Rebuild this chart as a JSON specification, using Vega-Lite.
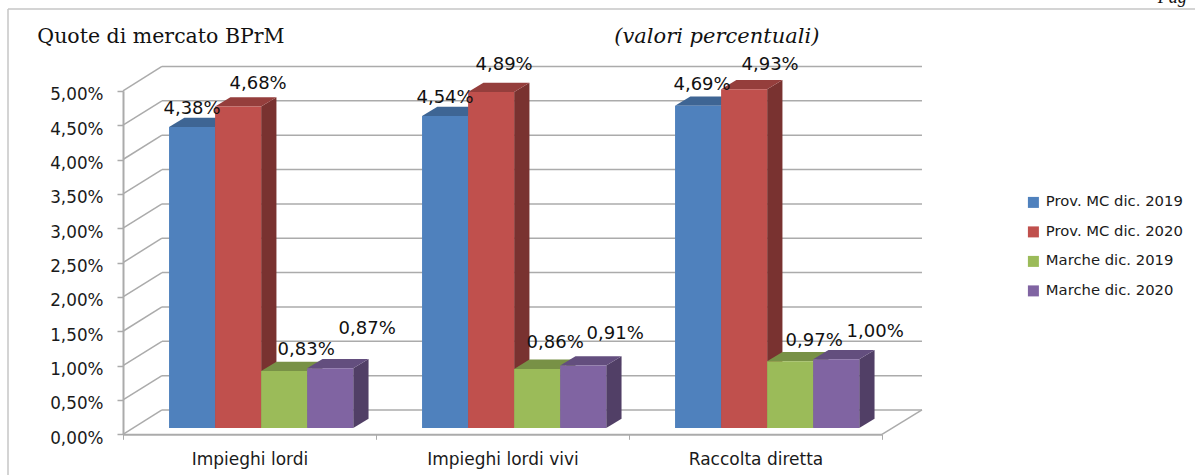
{"$schema":"https://vega.github.io/schema/vega-lite/v6.json","width":1195,"height":475,"padding":0,"autosize":{"type":"none"},"background":"white","config":{"view":{"stroke":null}},
"data":{"values":[
{"category":"Impieghi lordi","series":"Prov. MC dic. 2019","value":4.38},{"category":"Impieghi lordi","series":"Prov. MC dic. 2020","value":4.68},{"category":"Impieghi lordi","series":"Marche dic. 2019","value":0.83},{"category":"Impieghi lordi","series":"Marche dic. 2020","value":0.87},
{"category":"Impieghi lordi vivi","series":"Prov. MC dic. 2019","value":4.54},{"category":"Impieghi lordi vivi","series":"Prov. MC dic. 2020","value":4.89},{"category":"Impieghi lordi vivi","series":"Marche dic. 2019","value":0.86},{"category":"Impieghi lordi vivi","series":"Marche dic. 2020","value":0.91},
{"category":"Raccolta diretta","series":"Prov. MC dic. 2019","value":4.69},{"category":"Raccolta diretta","series":"Prov. MC dic. 2020","value":4.93},{"category":"Raccolta diretta","series":"Marche dic. 2019","value":0.97},{"category":"Raccolta diretta","series":"Marche dic. 2020","value":1.0}]},
"transform":[
{"calculate":"indexof(['Impieghi lordi','Impieghi lordi vivi','Raccolta diretta'],datum.category)","as":"g"},
{"calculate":"indexof(['Prov. MC dic. 2019','Prov. MC dic. 2020','Marche dic. 2019','Marche dic. 2020'],datum.series)","as":"s"},
{"calculate":"datum.g+0.182*(datum.s+1)","as":"x0"},
{"calculate":"datum.x0+0.182","as":"x1"},
{"calculate":"datum.value+0.092","as":"top"},
{"calculate":"datum.g*4+datum.s","as":"idx"}],
"layer":[
{"data":{"values":[{"tick":0},{"tick":0.5},{"tick":1},{"tick":1.5},{"tick":2},{"tick":2.5},{"tick":3},{"tick":3.5},{"tick":4},{"tick":4.5},{"tick":5}]},
"transform":[{"calculate":"datum.tick+0.354","as":"back"}],
"mark":{"type":"rule","color":"#ababab","strokeWidth":1.5},
"encoding":{"x":{"datum":0,"type":"quantitative","scale":{"domain":[0,3],"range":[123,882],"nice":false,"zero":false},
"axis":{"values":[0,0.5,1,1.5,2,2.5,3],"title":null,"grid":false,"offset":-40.7,"domainColor":"#ababab","domainWidth":2,"tickColor":"#ababab","tickWidth":1,"tickSize":5,"tickOpacity":{"condition":{"test":"datum.value%1==0","value":1},"value":0},"labelPadding":12,"labelFont":"DejaVu Sans","labelFontSize":17,"labelColor":"#1a1a1a","labelOverlap":false,"labelBound":false,"labelFlush":false,"labelExpr":"datum.value==0.5?'Impieghi lordi':datum.value==1.5?'Impieghi lordi vivi':datum.value==2.5?'Raccolta diretta':''"}},
"x2":{"datum":0.154},
"y":{"field":"tick","type":"quantitative","scale":{"domain":[0,5],"range":[434.3,90.8],"nice":false,"zero":false},
"axis":{"values":[0,0.5,1,1.5,2,2.5,3,3.5,4,4.5,5],"title":null,"grid":false,"offset":-123,"domainColor":"#ababab","domainWidth":2,"tickColor":"#ababab","tickWidth":1.5,"tickSize":6,"labelPadding":14,"labelOffset":4,"labelFont":"DejaVu Sans","labelFontSize":16.8,"labelColor":"#1a1a1a","labelOverlap":false,"labelBound":false,"labelExpr":"replace(format(datum.value,'.2f'),'.',',')+'%'"}},
"y2":{"field":"back"}}},
{"data":{"values":[{"tick":0},{"tick":0.5},{"tick":1},{"tick":1.5},{"tick":2},{"tick":2.5},{"tick":3},{"tick":3.5},{"tick":4},{"tick":4.5},{"tick":5}]},
"transform":[{"calculate":"datum.tick+0.354","as":"back"}],
"mark":{"type":"rule","color":"#ababab","strokeWidth":1.5},
"encoding":{"x":{"datum":0.154,"type":"quantitative"},"x2":{"datum":3.158},"y":{"field":"back","type":"quantitative"}}},
{"data":{"values":[{"tick":0}]},"transform":[{"calculate":"datum.tick+0.354","as":"back"}],
"mark":{"type":"rule","color":"#ababab","strokeWidth":1.5},
"encoding":{"x":{"datum":3,"type":"quantitative"},"x2":{"datum":3.158},"y":{"field":"tick","type":"quantitative"},"y2":{"field":"back"}}},
{"data":{"values":[{"frame":1}]},"mark":{"type":"rule","color":"#c6c6c6","strokeWidth":1.5},
"encoding":{"x":{"datum":-0.4545,"type":"quantitative"},"y":{"datum":6.19,"type":"quantitative"},"y2":{"datum":-0.6}}},
{"data":{"values":[{"frame":1}]},"mark":{"type":"rule","color":"#c6c6c6","strokeWidth":1.5},
"encoding":{"x":{"datum":-0.4545,"type":"quantitative"},"x2":{"datum":4.24},"y":{"datum":6.19,"type":"quantitative"}}},
{"transform":[{"calculate":"[0,1]","as":"v"},{"flatten":["v"]},
{"calculate":"datum.x1+datum.v*0.0605","as":"vx"},
{"calculate":"datum.top+datum.v*0.135","as":"vy"},
{"calculate":"0.092+datum.v*0.135","as":"vy2"}],
"mark":{"type":"area","orient":"vertical","interpolate":"linear"},
"encoding":{"x":{"field":"vx","type":"quantitative"},"y":{"field":"vy","type":"quantitative"},"y2":{"field":"vy2"},"detail":{"field":"g","type":"nominal"},
"color":{"field":"series","type":"nominal","legend":null,"scale":{"domain":["Prov. MC dic. 2019","Prov. MC dic. 2020","Marche dic. 2019","Marche dic. 2020"],"range":["#325176","#793230","#627538","#513f66"]}}}},
{"transform":[{"calculate":"[0,1,2,3]","as":"v"},{"flatten":["v"]},
{"calculate":"datum.v==0?datum.x0:datum.v==1?datum.x0+0.0605:datum.v==2?datum.x1:datum.x1+0.0605","as":"vx"},
{"calculate":"datum.v==0?datum.top:datum.top+0.135","as":"vy"},
{"calculate":"datum.v==3?datum.top+0.135:datum.top","as":"vy2"}],
"mark":{"type":"area","orient":"vertical","interpolate":"linear"},
"encoding":{"x":{"field":"vx","type":"quantitative"},"y":{"field":"vy","type":"quantitative"},"y2":{"field":"vy2"},"detail":{"field":"g","type":"nominal"},
"color":{"field":"series","type":"nominal","legend":null,"scale":{"domain":["Prov. MC dic. 2019","Prov. MC dic. 2020","Marche dic. 2019","Marche dic. 2020"],"range":["#3e6594","#953e3c","#789146","#634e7e"]}}}},
{"transform":[{"calculate":"0.092","as":"base"}],
"mark":{"type":"rect"},
"encoding":{"x":{"field":"x0","type":"quantitative"},"x2":{"field":"x1"},"y":{"field":"top","type":"quantitative"},"y2":{"field":"base"},
"color":{"field":"series","type":"nominal","scale":{"domain":["Prov. MC dic. 2019","Prov. MC dic. 2020","Marche dic. 2019","Marche dic. 2020"],"range":["#4f81bd","#c0504d","#9bbb59","#8064a2"]},
"legend":{"title":null,"orient":"none","legendX":1026,"legendY":195,"symbolType":"square","symbolSize":121,"symbolStrokeWidth":0,"symbolOpacity":1,"labelFont":"DejaVu Sans","labelFontSize":14.8,"labelColor":"#1a1a1a","labelOffset":5,"rowPadding":13.5,"labelLimit":200}}}},
{"transform":[{"calculate":"datum.x0+0.091+[0,20,22,37,0,13,18,32,4,26,24,39][datum.idx]/253","as":"lx"},
{"calculate":"datum.top+[18,22,21,39,18,27,26,31,21,24,20,27][datum.idx]/68.7","as":"ly"},
{"calculate":"replace(format(datum.value,'.2f'),'.',',')+'%'","as":"lab"}],
"mark":{"type":"text","font":"DejaVu Sans","fontSize":18,"color":"#111111","baseline":"middle","align":"center"},
"encoding":{"x":{"field":"lx","type":"quantitative"},"y":{"field":"ly","type":"quantitative"},"text":{"field":"lab"}}},
{"data":{"values":[{"label":"Quote di mercato BPrM"}]},"mark":{"type":"text","font":"DejaVu Serif","fontSize":20.5,"color":"#111111","baseline":"middle","align":"center"},
"encoding":{"x":{"datum":0.15,"type":"quantitative"},"y":{"datum":5.79,"type":"quantitative"},"text":{"field":"label"}}},
{"data":{"values":[{"label":"(valori percentuali)"}]},"mark":{"type":"text","font":"DejaVu Serif","fontStyle":"italic","fontSize":21,"color":"#111111","baseline":"middle","align":"center"},
"encoding":{"x":{"datum":2.347,"type":"quantitative"},"y":{"datum":5.79,"type":"quantitative"},"text":{"field":"label"}}},
{"data":{"values":[{"label":"Pag"}]},"mark":{"type":"text","font":"Liberation Serif","fontStyle":"italic","fontSize":18,"color":"#111111","baseline":"alphabetic","align":"left"},
"encoding":{"x":{"datum":4.09,"type":"quantitative"},"y":{"datum":6.28,"type":"quantitative"},"text":{"field":"label"}}}
],
"resolve":{"scale":{"color":"independent"}}}
